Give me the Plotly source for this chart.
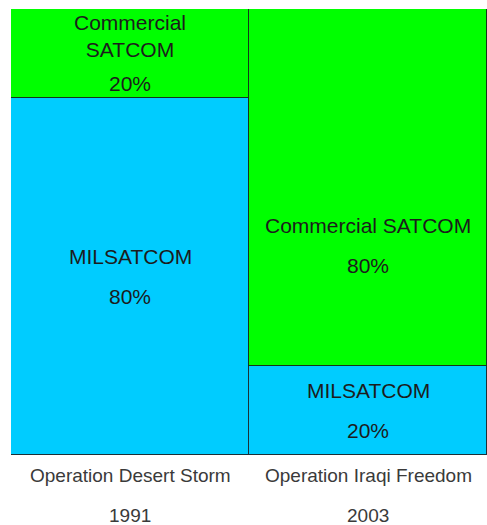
import plotly.graph_objects as go

categories = ["Operation Desert Storm", "Operation Iraqi Freedom"]
years = ["1991", "2003"]
milsatcom = [80, 20]
commercial = [20, 80]
milsatcom_names = ["MILSATCOM", "MILSATCOM"]
commercial_names = ["Commercial<br>SATCOM", "Commercial SATCOM"]

GREEN = "#00FF00"
BLUE = "#00CCFF"
FONT = "Liberation Sans, Arial, sans-serif"
TXT = "#1c1c1c"

x = list(range(len(categories)))

fig = go.Figure()
fig.add_trace(go.Bar(x=x, y=milsatcom, marker=dict(color=BLUE, line=dict(color="#1b2f36", width=1.5)),
                     hoverinfo="skip", showlegend=False))
fig.add_trace(go.Bar(x=x, y=commercial, marker=dict(color=GREEN, line=dict(color="#14361a", width=1.5)),
                     hoverinfo="skip", showlegend=False))

annotations = []
# pixel shifts (name, percent) relative to segment centre; layout only
shifts = {("m", 0): (20, -20), ("m", 1): (20, -20), ("c", 0): (18, -30), ("c", 1): (-38, -78)}

def seg_labels(xi, base, val, name, key):
    center = base + val / 2
    s_name, s_pct = shifts[(key, xi)]
    annotations.append(dict(x=xi, y=center, xref="x", yref="y", text=name, showarrow=False,
                            yanchor="middle", yshift=s_name,
                            font=dict(family=FONT, size=21, color=TXT)))
    annotations.append(dict(x=xi, y=center, xref="x", yref="y", text=f"{val}%", showarrow=False,
                            yanchor="middle", yshift=s_pct,
                            font=dict(family=FONT, size=21, color=TXT)))

for i in x:
    seg_labels(i, 0, milsatcom[i], milsatcom_names[i], "m")
    seg_labels(i, milsatcom[i], commercial[i], commercial_names[i], "c")
    annotations.append(dict(x=i, y=0, xref="x", yref="paper", text=categories[i], showarrow=False,
                            yanchor="middle", yshift=-20, font=dict(family=FONT, size=19, color="#3a3a3a")))
    annotations.append(dict(x=i, y=0, xref="x", yref="paper", text=years[i], showarrow=False,
                            yanchor="middle", yshift=-60, font=dict(family=FONT, size=19, color="#3a3a3a")))

fig.update_layout(
    barmode="stack", bargap=0,
    width=487, height=525,
    margin=dict(l=11, r=0, t=9, b=70),
    paper_bgcolor="white", plot_bgcolor="white",
    xaxis=dict(range=[-0.5, 1.5], showticklabels=False, showgrid=False, zeroline=False, fixedrange=True),
    yaxis=dict(range=[0, 100], visible=False, fixedrange=True),
    annotations=annotations,
)

fig.write_html("out.html", config={"displayModeBar": False},
               post_script="document.body.style.margin='0';document.body.style.overflow='hidden';")
